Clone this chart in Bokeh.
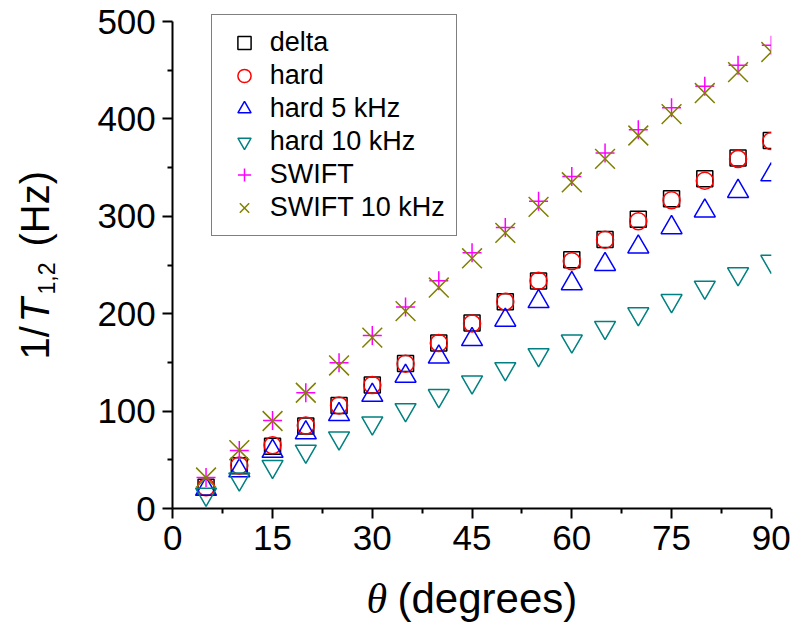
from math import pi
from bokeh.plotting import figure
from bokeh.models import Range1d, FixedTicker, Label, BoxAnnotation
from bokeh.embed import file_html
from bokeh.resources import INLINE

theta = [5, 10, 15, 20, 25, 30, 35, 40, 45, 50, 55, 60, 65, 70, 75, 80, 85, 90]
delta = [22, 44, 64, 85, 106, 127, 149, 170, 190.5, 212.5, 233.7, 255.5, 276.4, 297, 318, 338.7, 360, 378]
hard = [22, 44.4, 65, 85.4, 106, 127, 148.8, 170, 190, 212.5, 234, 254, 276, 295, 316.5, 336.5, 359, 377.3]
hard_5khz = [20, 39, 59, 78, 96.7, 116.4, 136, 155.7, 173.7, 193.5, 212.7, 231, 250.7, 268.7, 288.5, 305.6, 325.7, 342.7]
hard_10khz = [14.8, 30.4, 43.3, 59, 72.5, 88, 101.5, 116, 130, 143.6, 158, 172, 186, 200, 213.5, 227.3, 241, 253.8]
swift = [32, 59.7, 90.5, 119, 149.8, 177.8, 207, 234, 262.7, 288.7, 315.4, 341, 365, 389, 411.6, 433.5, 455, 475.6]
swift_10khz = [32, 60, 90, 119, 147, 175.5, 202.8, 227, 257, 283, 309.7, 335, 359, 383, 405, 426.6, 448, 468.7]

x_ticks = [0, 15, 30, 45, 60, 75, 90]
x_minor = [7.5, 22.5, 37.5, 52.5, 67.5, 82.5]
y_ticks = [0, 100, 200, 300, 400, 500]
y_minor = [50, 150, 250, 350, 450]

W, H = 793, 627
# pixel geometry of the data area inside the canvas
X0_PX, X90_PX = 172.3, 770.8
Y0_PX, Y500_PX = 508.2, 21.0
kx = (X90_PX - X0_PX) / 90.0
ky = (Y0_PX - Y500_PX) / 500.0
x_rng = Range1d(-X0_PX / kx, 90 + (W - X90_PX) / kx)
y_rng = Range1d(-(H - Y0_PX) / ky, 500 + Y500_PX / ky)

p = figure(width=W, height=H, output_backend="svg", toolbar_location=None,
           x_range=x_rng, y_range=y_rng,
           min_border_left=0, min_border_right=0, min_border_top=0, min_border_bottom=0)
p.outline_line_color = None
p.xgrid.visible = False
p.ygrid.visible = False
p.background_fill_color = "white"
p.border_fill_color = "white"

FONT = "Liberation Sans"
for ax, ticks, minor, bnds in ((p.xaxis, x_ticks, x_minor, (0, 90)),
                               (p.yaxis, y_ticks, y_minor, (0, 500))):
    ax.fixed_location = 0
    ax.bounds = bnds
    ax.ticker = FixedTicker(ticks=ticks, minor_ticks=minor)
    ax.axis_line_width = 2
    ax.axis_line_color = "black"
    ax.major_tick_line_width = 2
    ax.minor_tick_line_width = 2
    ax.major_tick_out = 10
    ax.major_tick_in = 0
    ax.minor_tick_out = 5
    ax.minor_tick_in = 0
    ax.major_label_text_font = FONT
    ax.major_label_text_font_size = "35px"
    ax.major_label_text_color = "black"
p.xaxis.major_label_standoff = 7
p.yaxis.major_label_standoff = 7

series = [
    ("delta", delta, "square", "black", 16),
    ("hard", hard, "circle", "red", 17),
    ("hard 5 kHz", hard_5khz, "triangle", "blue", 21),
    ("hard 10 kHz", hard_10khz, "inverted_triangle", "#008080", 21),
    ("SWIFT", swift, "cross", "#ff00ff", 19),
    ("SWIFT 10 kHz", swift_10khz, "x", "#808000", 28),
]
for name, vals, marker, color, size in series:
    p.scatter(theta, vals, marker=marker, size=size, fill_color=None,
              line_color=color, line_width=1.5, legend_label=name)

# markers are cut at the right edge of the data area, as in the reference
p.add_layout(BoxAnnotation(left=90, bottom=0, fill_color="white", fill_alpha=1,
                           line_color=None))

lg = p.legend[0]
lg.location = (210.7, 391)
lg.border_line_color = "black"
lg.border_line_width = 1
lg.background_fill_color = "white"
lg.background_fill_alpha = 1
lg.label_text_font = FONT
lg.label_text_font_size = "27px"
lg.label_text_color = "black"
lg.glyph_width = 42
lg.glyph_height = 33
lg.spacing = 0
lg.padding = 11
lg.margin = 0
lg.label_standoff = 5

def lab(x, y, text, size, font=FONT, style="normal", angle=pi / 2):
    p.add_layout(Label(x=x, y=y, x_units="screen", y_units="screen", text=text,
                       angle=angle, text_font=font, text_font_size=size,
                       text_font_style=style, text_color="black",
                       text_align="left", text_baseline="alphabetic"))

# y axis title: 1/T_{1,2} (Hz)
lab(34, 268, "1/", "40px")
lab(34, 305, "T", "40px", style="italic")
lab(46, 333, "1,2", "23px")
lab(34, 381, "(Hz)", "40px")

# x axis title: θ (degrees)
lab(366, 29, "θ", "42px", font="Liberation Serif", style="italic", angle=0)
lab(397, 29, "(degrees)", "42px", angle=0)

open("out.html", "w").write(file_html(p, INLINE))
